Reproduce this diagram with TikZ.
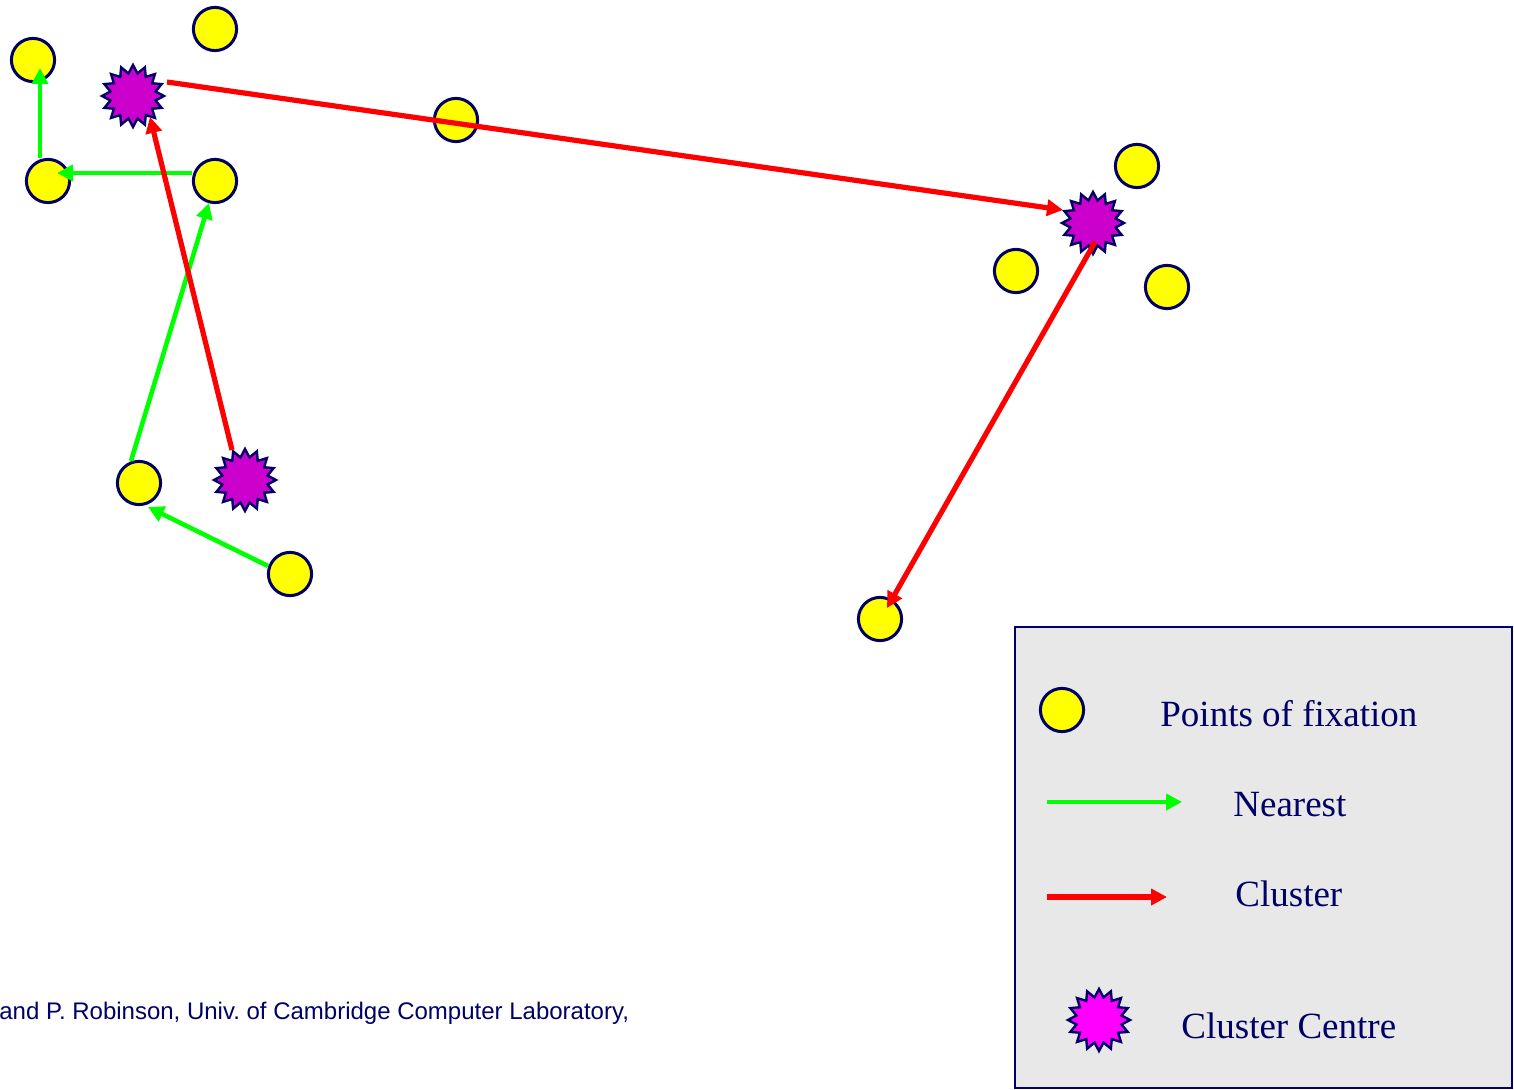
\documentclass[tikz,border=0pt]{standalone}
\usepackage{fontspec}
\setmainfont{Liberation Serif}
\newfontfamily\labelsans{Liberation Sans}
\usetikzlibrary{shapes.geometric,arrows.meta,calc}
\definecolor{navyline}{HTML}{000066}
\definecolor{fixyellow}{HTML}{FFFF00}
\definecolor{centrepurple}{HTML}{CC00CC}
\definecolor{centremagenta}{HTML}{FF00FF}
\definecolor{nearestgreen}{HTML}{00FF00}
\definecolor{clusterred}{HTML}{FF0000}
\definecolor{legendgrey}{HTML}{E8E8E8}
\frenchspacing
\begin{document}
\begin{tikzpicture}[x=0.5pt,y=-0.5pt,
  fixation/.style={circle,draw=navyline,fill=fixyellow,line width=1.5pt,
    minimum size=21.6pt,inner sep=0pt},
  centre/.style={star,star points=16,star point ratio=1.35,draw=navyline,
    fill=centrepurple,line width=1.2pt,minimum size=31pt,inner sep=0pt},
  nearest/.style={draw=nearestgreen,line width=2.3pt,
    -{Triangle[length=8pt,width=8pt]}},
  cluster/.style={draw=clusterred,line width=2.6pt,
    -{Triangle[length=8pt,width=8pt]}},
  legendtext/.style={anchor=base west,text=navyline,inner sep=0pt,
    font=\fontsize{18.5}{22}\selectfont}]
\useasboundingbox (0,0) rectangle (1514,1090);

% points of fixation
\node[fixation] (c1)  at (215,29)  {};
\node[fixation] (c2)  at (33,60)   {};
\node[fixation] (c3)  at (48,181)  {};
\node[fixation] (c4)  at (215,181) {};
\node[fixation] (c5)  at (456,120) {};
\node[fixation] (c6)  at (1137,166) {};
\node[fixation] (c7)  at (1016,271) {};
\node[fixation] (c8)  at (1167,287) {};
\node[fixation] (c9)  at (139,483) {};
\node[fixation] (c10) at (290,574) {};
\node[fixation] (c11) at (880,619) {};

% cluster centres
\node[centre] (s1) at (133,96)  {};
\node[centre] (s2) at (1093,223) {};
\node[centre] (s3) at (245,480) {};

% nearest-neighbour links
\draw[nearest] ($(c10)+(-22,-8)$) -- ($(c9)+(9,24)$);
\draw[nearest] ($(c9)+(-8,-22)$) -- ($(c4)+(-6,22)$);
\draw[nearest] ($(c4)+(-23,-8)$) -- ($(c3)+(9,-8)$);
\draw[nearest] ($(c3)+(-8,-23)$) -- ($(c2)+(7,8)$);

% cluster links
\draw[cluster] ($(s3)+(-13,-30)$) -- ($(s1)+(17,21)$);
\draw[cluster] ($(s1)+(34,-14)$) -- ($(s2)+(-30,-13)$);
\draw[cluster] ($(s2)+(2,19)$) -- ($(c11)+(7,-11)$);

% credit line
\node[anchor=base west,inner sep=0pt,text=navyline,
  font=\labelsans\fontsize{12}{14}\selectfont] (credit) at (-1,1019)
  {and P. Robinson, Univ. of Cambridge Computer Laboratory,};

% legend
\draw[draw=navyline,fill=legendgrey,line width=1.2pt] (1015,627) rectangle (1512,1088);
\node[fixation] (kfix) at (1062,710) {};
\node[legendtext] (tfix) at (1160,726) {Points of fixation};
\coordinate (gA) at (1047,802);
\coordinate (gB) at (1182,802);
\draw[nearest] (gA) -- (gB);
\node[legendtext] (tnear) at (1233,816) {Nearest};
\coordinate (rA) at (1047,897);
\coordinate (rB) at (1167,897);
\draw[cluster] (rA) -- (rB);
\node[legendtext] (tclus) at (1235,906) {Cluster};
\node[centre,fill=centremagenta] (kcen) at (1099,1020) {};
\node[legendtext] (tcen) at (1181,1038) {Cluster Centre};
\end{tikzpicture}
\end{document}
